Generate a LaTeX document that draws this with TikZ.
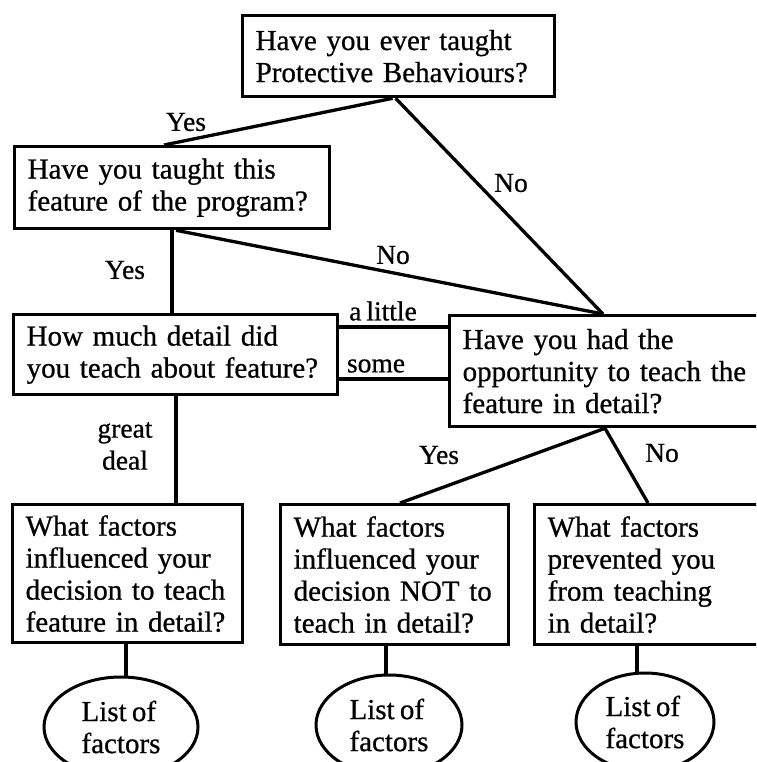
\documentclass[tikz,border=0pt]{standalone}
\usepackage{fontspec}
\setmainfont[WordSpace=0.72,FakeBold=0.7]{Liberation Serif}
\usetikzlibrary{shapes.geometric,calc}
\newcommand\qfont{\fontsize{29}{32}\selectfont}
\newcommand\lfont{\fontsize{27.5}{32}\selectfont}
\begin{document}
\begin{tikzpicture}[x=1pt,y=-1pt,
  qbox/.style={draw, line width=3.3pt, rectangle, anchor=north west, align=left,
               inner xsep=13pt, inner ysep=0pt, font=\qfont},
  lbl/.style={font=\lfont, inner sep=0pt, align=center},
  ell/.style={draw, ellipse, line width=3pt, inner sep=0pt, font=\qfont, align=left},
  conn/.style={line width=3.3pt}]
\useasboundingbox (0,0) rectangle (756,762);
\clip (0,0) rectangle (756,762);

% question boxes
\node[qbox, text width=286pt, minimum height=81pt] (top) at (241,14)
  {Have you ever taught\\Protective Behaviours?};
\node[qbox, text width=289pt, minimum height=82pt] (q2) at (13,145)
  {Have you taught this\\feature of the program?};
\node[qbox, text width=298pt, minimum height=80pt] (q3) at (12,313)
  {How much detail did\\you teach about feature?};
\node[qbox, text width=300pt, minimum height=111pt] (opp) at (448,314)
  {Have you had the\\opportunity to teach the\\feature in detail?};
\node[qbox, text width=204pt, minimum height=138pt] (b4) at (11,503)
  {What factors\\influenced your\\decision to teach\\feature in detail?};
\node[qbox, text width=202pt, minimum height=140pt] (b5) at (279,503)
  {What factors\\influenced your\\decision NOT to\\teach in detail?};
\node[qbox, text width=220pt, minimum height=140pt] (b6) at (533,503)
  {What factors\\prevented you\\from teaching\\in detail?};

% ellipses
\node[ell, minimum width=154pt, minimum height=100pt] (e1) at (121,727) {List of\\factors};
\node[ell, minimum width=146pt, minimum height=100pt] (e2) at (389,725) {List of\\factors};
\node[ell, minimum width=138pt, minimum height=98pt] (e3) at (645,722) {List of\\factors};

% connectors
\draw[conn] ([xshift=-6pt]top.south) -- ([xshift=151pt]q2.north west);
\draw[conn] ([xshift=-3pt]top.south) -- ([xshift=155pt]opp.north west);
\draw[conn] ([xshift=163pt]q2.south west) -- ([xshift=155pt]opp.north west);
\draw[conn] ([xshift=159pt]q2.south west) -- ([xshift=160pt]q3.north west);
\draw[conn] ([yshift=-14pt]q3.north east) coordinate (a1) -- (a1 -| opp.west);
\draw[conn] ([yshift=-66pt]q3.north east) coordinate (a2) -- (a2 -| opp.west);
\draw[conn] ([xshift=164pt]q3.south west) -- ([xshift=165pt]b4.north west);
\draw[conn] ([xshift=157pt]opp.south west) -- ([xshift=121pt]b5.north west);
\draw[conn] ([xshift=157pt]opp.south west) -- ([xshift=115pt]b6.north west);
\draw[conn] ([xshift=115pt]b4.south west) -- ([xshift=5pt]e1.north);
\draw[conn] ([xshift=107pt]b5.south west) -- ([xshift=-3pt]e2.north);
\draw[conn] ([xshift=104pt]b6.south west) -- ([xshift=-8pt]e3.north);

% labels
\node[lbl] (lyes1) at (186,122) {Yes};
\node[lbl] (lno1) at (511,183) {No};
\node[lbl] (lno2) at (393,255) {No};
\node[lbl] (lyes2) at (125,270) {Yes};
\node[lbl] (llittle) at (383,311) {a little};
\node[lbl] (lsome) at (376,366) {some};
\node[lbl] (lgreat) at (125,446) {great\\deal};
\node[lbl] (lyes3) at (439,455) {Yes};
\node[lbl] (lno3) at (662,453) {No};
\end{tikzpicture}
\end{document}
